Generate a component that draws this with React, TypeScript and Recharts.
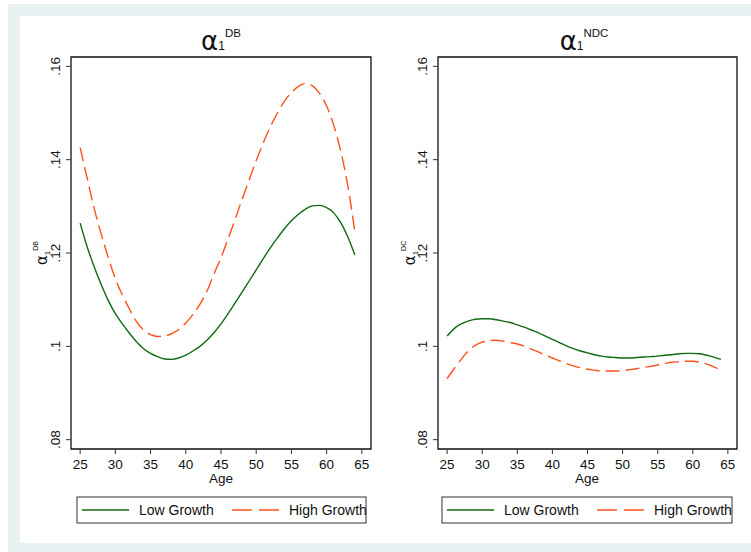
import React from "react";
import { LineChart, Line, XAxis, YAxis, ReferenceArea } from "recharts";

const AGE = [
  25, 26, 27, 28, 29, 30, 31, 32, 33, 34, 35, 36, 37, 38, 39, 40, 41, 42, 43, 44,
  45, 46, 47, 48, 49, 50, 51, 52, 53, 54, 55, 56, 57, 58, 59, 60, 61, 62, 63, 64,
];

// alpha_1 DB
const DB_LOW = [
  0.1264, 0.1213, 0.117, 0.1132, 0.1098, 0.107, 0.1048, 0.1028, 0.101, 0.0995,
  0.0985, 0.0978, 0.0973, 0.0972, 0.0975, 0.0981, 0.099, 0.1, 0.1013, 0.1029,
  0.1048, 0.107, 0.1093, 0.1116, 0.114, 0.1164, 0.1188, 0.1211, 0.1232, 0.1252,
  0.1269, 0.1283, 0.1294, 0.1301, 0.1302, 0.1297, 0.1286, 0.1265, 0.1235, 0.1196,
];
const DB_HIGH = [
  0.1426, 0.136, 0.1295, 0.124, 0.119, 0.1145, 0.111, 0.108, 0.1053, 0.1035,
  0.1025, 0.1021, 0.1022, 0.1027, 0.1036, 0.105, 0.1068, 0.109, 0.1118, 0.1155,
  0.119, 0.123, 0.1272, 0.1315, 0.1357, 0.1398, 0.1436, 0.147, 0.15, 0.1525,
  0.1544, 0.1557, 0.1563, 0.1558, 0.1542, 0.1515, 0.1474, 0.1418, 0.1345, 0.1246,
];

// alpha_1 NDC
const NDC_LOW = [
  0.1022, 0.1038, 0.1048, 0.1054, 0.1058, 0.1059, 0.1059, 0.1057, 0.1054, 0.1051,
  0.1046, 0.1041, 0.1035, 0.1029, 0.1022, 0.1015, 0.1008, 0.1001, 0.0995, 0.099,
  0.0986, 0.0982, 0.0979, 0.0977, 0.0976, 0.0975, 0.0975, 0.0976, 0.0977, 0.0978,
  0.0979, 0.0981, 0.0982, 0.0984, 0.0985, 0.0985, 0.0984, 0.0981, 0.0977, 0.0972,
];
const NDC_HIGH = [
  0.0931, 0.0952, 0.0972, 0.099, 0.1002, 0.1009, 0.1012, 0.1013, 0.1011, 0.1008,
  0.1005, 0.1, 0.0994, 0.0988, 0.0981, 0.0975, 0.0969, 0.0963, 0.0958, 0.0954,
  0.0951, 0.0949, 0.0947, 0.0947, 0.0947, 0.0948, 0.095, 0.0952, 0.0955, 0.0957,
  0.096, 0.0963, 0.0966, 0.0967, 0.0968, 0.0968, 0.0966, 0.0962, 0.0956, 0.0949,
];

const X_TICKS = [25, 30, 35, 40, 45, 50, 55, 60, 65];
const Y_TICKS = [0.08, 0.1, 0.12, 0.14, 0.16];

const GREEN = "#0f6a0f";
const ORANGE = "#ff5019";
const FONT = "'Liberation Sans', Arial, sans-serif";
const GREEK = "'DejaVu Sans', sans-serif";

const dbData = AGE.map((age, i) => ({ age, low: DB_LOW[i], high: DB_HIGH[i] }));
const ndcData = AGE.map((age, i) => ({ age, low: NDC_LOW[i], high: NDC_HIGH[i] }));

const fmtY = (v: number) => String(v).replace(/^0/, "");

const RotatedTick = (props: any) => {
  const { x, y, payload } = props;
  return (
    <text
      x={x}
      y={y}
      transform={`rotate(-90, ${x}, ${y})`}
      textAnchor="middle"
      fontSize={13.5}
      fontFamily={FONT}
      fill="#111"
    >
      {fmtY(payload.value)}
    </text>
  );
};

function Panel({
  data,
  left,
  width,
  marginLeft,
  marginRight,
}: {
  data: Array<{ age: number; low: number; high: number }>;
  left: number;
  width: number;
  marginLeft: number;
  marginRight: number;
}) {
  return (
    <div style={{ position: "absolute", left, top: 0 }}>
      <LineChart
        width={width}
        height={552}
        data={data}
        margin={{ top: 57, right: marginRight, bottom: 63, left: marginLeft }}
      >
        <XAxis
          dataKey="age"
          type="number"
          domain={[23.7, 66.3]}
          ticks={X_TICKS}
          interval={0}
          allowDataOverflow
          height={40}
          axisLine={false}
          tickSize={5}
          tickMargin={5}
          tickLine={{ stroke: "#333" }}
          tick={{ fill: "#111", fontSize: 13.5, fontFamily: FONT }}
        />
        <YAxis
          type="number"
          domain={[0.078, 0.162]}
          ticks={Y_TICKS}
          interval={0}
          allowDataOverflow
          width={40}
          axisLine={false}
          tickSize={5}
          tickMargin={6}
          tickLine={{ stroke: "#333" }}
          tick={<RotatedTick />}
        />
        <ReferenceArea
          x1={23.7}
          x2={66.3}
          y1={0.078}
          y2={0.162}
          fill="none"
          stroke="#111"
          strokeWidth={1.3}
          ifOverflow="visible"
        />
        <Line
          type="monotone"
          dataKey="low"
          stroke={GREEN}
          strokeWidth={1.4}
          dot={false}
          isAnimationActive={false}
        />
        <Line
          type="monotone"
          dataKey="high"
          stroke={ORANGE}
          strokeWidth={1.4}
          strokeDasharray="14 6"
          dot={false}
          isAnimationActive={false}
        />
      </LineChart>
    </div>
  );
}

function LegendBox({ x, w }: { x: number; w: number }) {
  return (
    <g fontFamily={FONT} fontSize={14} fill="#111">
      <rect x={x} y={497} width={w} height={26} fill="#fff" stroke="#333" strokeWidth={1} />
      <line x1={x + 5} x2={x + 52} y1={510} y2={510} stroke={GREEN} strokeWidth={1.4} />
      <text x={x + 62} y={515}>Low Growth</text>
      <line
        x1={x + 155}
        x2={x + 202}
        y1={510}
        y2={510}
        stroke={ORANGE}
        strokeWidth={1.4}
        strokeDasharray="20 7"
      />
      <text x={x + 212} y={515}>High Growth</text>
    </g>
  );
}

function Alpha({
  x,
  y,
  sup,
  size,
  rotate,
}: {
  x: number;
  y: number;
  sup: string;
  size: number;
  rotate?: boolean;
}) {
  return (
    <text
      transform={`translate(${x}, ${y})${rotate ? " rotate(-90)" : ""}`}
      textAnchor="middle"
      fill="#111"
    >
      <tspan fontFamily={GREEK} fontSize={size}>α</tspan>
      <tspan fontFamily={FONT} fontSize={rotate ? 8 : 12} dy={rotate ? 3 : 0}>1</tspan>
      <tspan fontFamily={FONT} fontSize={rotate ? 7 : 11.5} dy={rotate ? -12 : -13}>{sup}</tspan>
    </text>
  );
}

export default function App() {
  return (
    <div style={{ position: "absolute", left: 0, top: 0, width: 751, height: 552, background: "#fff" }}>
      <svg width={751} height={552} style={{ position: "absolute", left: 0, top: 0 }}>
        <rect x={8} y={4} width={743} height={548} fill="#e9f1f3" />
        <rect x={20} y={16} width={731} height={527} fill="#fff" />
      </svg>
      <Panel data={dbData} left={0} width={380} marginLeft={31} marginRight={9} />
      <Panel data={ndcData} left={380} width={371} marginLeft={18} marginRight={14} />
      <svg width={751} height={552} style={{ position: "absolute", left: 0, top: 0, pointerEvents: "none" }}>
        <Alpha x={221} y={50} sup="DB" size={26} />
        <Alpha x={584} y={50} sup="NDC" size={26} />
        <Alpha x={47} y={253} sup="DB" size={15} rotate />
        <Alpha x={415} y={253} sup="DC" size={15} rotate />
        <text x={221} y={483} textAnchor="middle" fontFamily={FONT} fontSize={13.5} fill="#111">Age</text>
        <text x={587} y={483} textAnchor="middle" fontFamily={FONT} fontSize={13.5} fill="#111">Age</text>
        <LegendBox x={77} w={289} />
        <LegendBox x={442} w={290} />
      </svg>
    </div>
  );
}
